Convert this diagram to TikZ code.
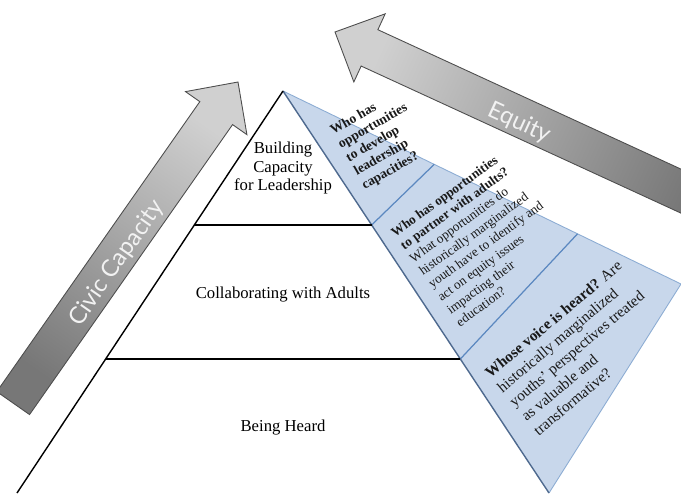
\documentclass[tikz,border=0pt]{standalone}
\usepackage{fontspec}
\setmainfont{Liberation Serif}
\newfontfamily\arrowfont{Lato}
\usepackage{xcolor}
\usetikzlibrary{calc}

\definecolor{faceblue}{HTML}{C8D7EB}
\definecolor{lineblue}{HTML}{5B88C0}
\definecolor{edgeblue}{HTML}{4F6A8F}
\definecolor{arrowline}{HTML}{4D4D4D}
\definecolor{arrowlight}{HTML}{D0D0D0}
\definecolor{arrowdark}{HTML}{777777}

\begin{document}
\begin{tikzpicture}[
  level/.style={line width=0.8pt},
  tier/.style={font=\fontsize{9.5}{10.3}\selectfont, align=center},
  question/.style={align=left, text=black!90},
  bigarrow/.style={draw=arrowline, line width=0.5pt, left color=arrowlight, right color=arrowdark},
  arrowlabel/.style={font=\arrowfont\fontsize{13.5}{14}\selectfont, text=white!95!black}
]
\useasboundingbox (0,0) rectangle (13.62,9.86);

% corners of the pyramid and of its side face
\coordinate (apex) at (5.66,8.04);
\coordinate (bl) at (0.34,0);
\coordinate (br) at (10.98,0);
\coordinate (side) at (13.62,4.18);
\coordinate (l1) at ($(apex)!1/3!(bl)$);
\coordinate (r1) at ($(apex)!1/3!(br)$);
\coordinate (l2) at ($(apex)!2/3!(bl)$);
\coordinate (r2) at ($(apex)!2/3!(br)$);
\coordinate (s1) at ($(apex)!0.38!(side)$);
\coordinate (s2) at ($(apex)!0.74!(side)$);

% side face
\fill[faceblue] (apex) -- (side) -- (br) -- cycle;
\draw[lineblue!70, line width=0.5pt] (apex) -- (side) -- (br);
\draw[lineblue, line width=0.7pt] (r1) -- (s1);
\draw[lineblue, line width=0.7pt] (r2) -- (s2);
\draw[edgeblue, line width=0.8pt] (apex) -- (br);

% front of the pyramid
\draw[level] (apex) -- (bl);
\draw[level] (l1) -- (r1);
\draw[level] (l2) -- (r2);

\node[tier] (lead) at (5.66,6.50) {Building\\Capacity\\for Leadership};
\node[tier] (collab) at (5.66,3.96) {Collaborating with Adults};
\node[tier] (heard) at (5.66,1.30) {Being Heard};

% questions on the side face
\node[question, rotate=30, font=\bfseries\fontsize{7.7}{9}\selectfont] (q1) at (7.62,7.06)
  {Who has\\opportunities\\to develop\\leadership\\capacities?};
\node[question, rotate=36, font=\fontsize{7.5}{9}\selectfont] (q2) at (9.62,5.10)
  {\textbf{Who has opportunities}\\\textbf{to partner with adults?}\\What opportunities do\\historically marginalized\\youth have to identify and\\act on equity issues\\impacting their\\education?};
\node[question, rotate=40, font=\fontsize{8.7}{10.7}\selectfont] (q3) at (11.55,2.90)
  {\textbf{Whose voice is heard?} Are\\historically marginalized\\youths’ perspectives treated\\as valuable and\\transformative?};

% civic capacity arrow, drawn from its tip backwards
\begin{scope}[shift={(4.76,8.22)}, rotate=235]
  \shade[bigarrow, shading angle=-35] (0,0) -- (0.76,0.75) -- (0.76,0.40) -- (7.84,0.40)
    -- (7.84,-0.40) -- (0.76,-0.40) -- (0.76,-0.75) -- cycle;
\end{scope}
\node[arrowlabel, rotate=55] (civic) at (2.34,4.60) {Civic Capacity};

% equity arrow
\begin{scope}[shift={(6.70,9.22)}, rotate=-24.7]
  \shade[bigarrow, shading angle=65.3] (0,0) -- (0.76,0.75) -- (0.76,0.40) -- (8.6,0.40)
    -- (8.6,-0.40) -- (0.76,-0.40) -- (0.76,-0.75) -- cycle;
\end{scope}
\node[arrowlabel, rotate=-24.7] (equity) at (10.38,7.40) {Equity};
\end{tikzpicture}
\end{document}
